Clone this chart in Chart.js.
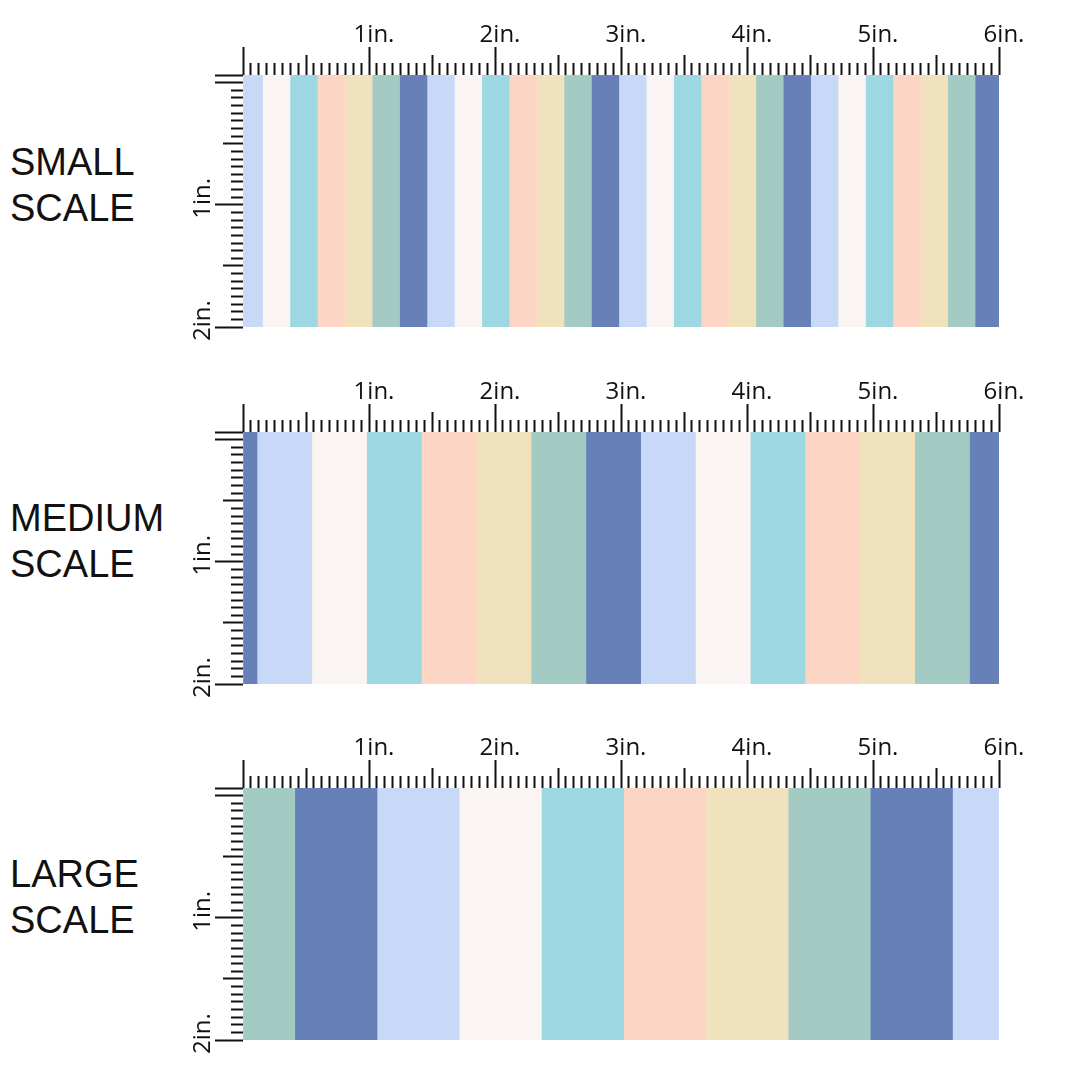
<!DOCTYPE html>
<html>
<head>
<meta charset="utf-8">
<title>Stripe scale chart</title>
<script src="https://cdn.jsdelivr.net/npm/chart.js@4.4.1/dist/chart.umd.min.js"></script>
<style>
  html, body { margin: 0; padding: 0; background: #fff; }
  body { width: 1080px; height: 1080px; position: relative; overflow: hidden; }
  .name {
    position: absolute; left: 10px;
    font-family: 'Liberation Sans', Arial, sans-serif;
    font-size: 38px; line-height: 46px; color: #111;
  }
  canvas { position: absolute; left: 170px; }
</style>
</head>
<body>
<div class="name" style="top:139px">SMALL<br>SCALE</div>
<div class="name" style="top:495px">MEDIUM<br>SCALE</div>
<div class="name" style="top:851px">LARGE<br>SCALE</div>

<canvas id="smallCanvas" width="880" height="342" style="top:15px"></canvas>
<canvas id="mediumCanvas" width="880" height="342" style="top:372px"></canvas>
<canvas id="largeCanvas" width="880" height="342" style="top:728px"></canvas>

<script>
// ruler labels (inches)
const inchLabels = ['', '1in.', '2in.', '3in.', '4in.', '5in.', '6in.'];
const heightLabels = ['', '1in.', '2in.'];

// stripe order, left to right
const smallStripes = [
  'periwinkle', 'white', 'aqua', 'peach', 'cream', 'sage', 'blue',
  'periwinkle', 'white', 'aqua', 'peach', 'cream', 'sage', 'blue',
  'periwinkle', 'white', 'aqua', 'peach', 'cream', 'sage', 'blue',
  'periwinkle', 'white', 'aqua', 'peach', 'cream', 'sage', 'blue'
];
// stripe widths in inches
const smallWidths = [
  0.155, 0.2175, 0.2175, 0.2175, 0.2175, 0.2175, 0.2175,
  0.2175, 0.2175, 0.2175, 0.2175, 0.2175, 0.2175, 0.2175,
  0.2175, 0.2175, 0.2175, 0.2175, 0.2175, 0.2175, 0.2175,
  0.2175, 0.2175, 0.2175, 0.2175, 0.2175, 0.2175, 0.19
];

const mediumStripes = [
  'blue', 'periwinkle', 'white', 'aqua', 'peach', 'cream', 'sage',
  'blue', 'periwinkle', 'white', 'aqua', 'peach', 'cream', 'sage', 'blue'
];
const mediumWidths = [
  0.111, 0.435, 0.435, 0.435, 0.435, 0.435, 0.435,
  0.435, 0.435, 0.435, 0.435, 0.435, 0.435, 0.435, 0.234
];

const largeStripes = [
  'sage', 'blue', 'periwinkle', 'white', 'aqua',
  'peach', 'cream', 'sage', 'blue', 'periwinkle'
];
const largeWidths = [
  0.411, 0.6525, 0.6525, 0.6525, 0.6525,
  0.6525, 0.6525, 0.6525, 0.6525, 0.369
];

// colours of the fabric
const palette = {
  periwinkle: '#c8d8f7',
  white: '#faf5f2',
  aqua: '#9dd8e2',
  peach: '#fdd5c5',
  cream: '#f1e2be',
  sage: '#a3cac3',
  blue: '#6780b8'
};

const inkColor = '#111';
const rulerFont = { family: "'Open Sans', 'DejaVu Sans', sans-serif", size: 24, lineHeight: 1 };

// ruler marks: full inch long, half inch medium, sixteenths short
function markLength(value) {
  if (Number.isInteger(value)) return 28;
  if (Number.isInteger(value * 2)) return 20;
  return 12;
}
function markDash(ctx) {
  if (!ctx.tick) return [];
  var len = markLength(ctx.tick.value);
  return len === 28 ? [] : [len, 28 - len];
}
function markDashOffset(ctx) {
  if (!ctx.tick) return 0;
  var len = markLength(ctx.tick.value);
  return len === 28 ? 0 : len;
}

function makeChart(id, stripes, widths) {
  var ctx = document.getElementById(id).getContext('2d');
  return new Chart(ctx, {
    type: 'bar',
    data: {
      labels: [''],
      datasets: stripes.map(function (name, i) {
        return {
          label: name,
          data: [widths[i]],
          backgroundColor: palette[name],
          borderWidth: 0,
          barPercentage: 1,
          categoryPercentage: 1
        };
      })
    },
    options: {
      indexAxis: 'y',
      responsive: false,
      animation: false,
      layout: { padding: { left: 10, right: 51, top: 0, bottom: 30 } },
      plugins: {
        legend: { display: false },
        tooltip: { enabled: false }
      },
      scales: {
        x: {
          type: 'linear',
          position: 'top',
          stacked: true,
          min: 0,
          max: 6,
          border: { display: false },
          grid: {
            drawOnChartArea: false,
            tickLength: 28,
            tickColor: inkColor,
            tickWidth: 2,
            tickBorderDash: markDash,
            tickBorderDashOffset: markDashOffset
          },
          ticks: {
            stepSize: 0.0625,
            autoSkip: false,
            maxRotation: 0,
            minRotation: 0,
            labelOffset: 5,
            padding: 0,
            color: inkColor,
            font: rulerFont,
            callback: function (value) {
              return Number.isInteger(value) ? inchLabels[value] : '';
            }
          },
          afterFit: function (scale) {
            scale.height = 60;
            scale.paddingLeft = 0;
            scale.paddingRight = 0;
          }
        },
        y: {
          type: 'category',
          stacked: true,
          display: false
        },
        ruler: {
          type: 'linear',
          position: 'left',
          min: 0,
          max: 2,
          reverse: true,
          border: { display: false },
          grid: {
            drawOnChartArea: false,
            tickLength: 28,
            tickColor: inkColor,
            tickWidth: 2,
            tickBorderDash: markDash,
            tickBorderDashOffset: markDashOffset
          },
          ticks: {
            stepSize: 0.0625,
            autoSkip: false,
            minRotation: 90,
            maxRotation: 90,
            labelOffset: -23,
            padding: 12,
            color: inkColor,
            font: rulerFont,
            callback: function (value) {
              return Number.isInteger(value) ? heightLabels[value] : '';
            }
          },
          afterFit: function (scale) {
            scale.width = 63;
            scale.paddingTop = 0;
            scale.paddingBottom = 0;
          }
        }
      }
    }
  });
}

var smallChart = makeChart('smallCanvas', smallStripes, smallWidths);
var mediumChart = makeChart('mediumCanvas', mediumStripes, mediumWidths);
var largeChart = makeChart('largeCanvas', largeStripes, largeWidths);
</script>
</body>
</html>
